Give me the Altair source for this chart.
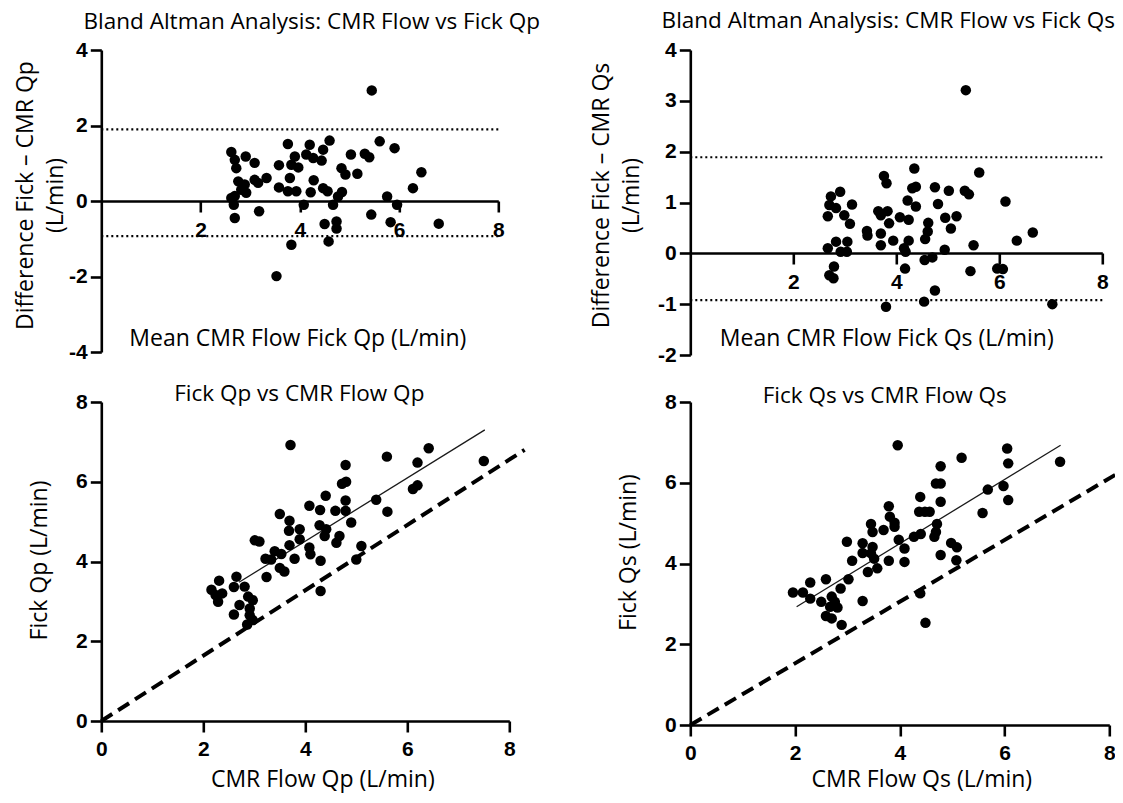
import altair as alt
import pandas as pd

# ---------------- data ----------------
# Bland-Altman Qp: mean of CMR flow and Fick (x) vs difference Fick - CMR (y)
qp_ba_mean = [5.45, 2.62, 2.69, 2.91, 2.72, 3.09, 2.76, 2.89, 2.82, 2.92, 2.69,
              3.09, 3.16, 3.33, 2.62, 2.67, 2.69, 3.18, 3.76, 3.58, 3.90, 3.83,
              3.97, 3.80, 3.58, 3.76, 3.93, 4.08, 3.83, 3.53, 4.20, 4.13, 4.27,
              4.47, 4.60, 4.44, 4.28, 4.22, 4.47, 4.56, 4.50, 4.58, 4.74, 4.74,
              4.67, 4.77, 4.85, 4.84, 4.92, 5.03, 5.16, 5.31, 5.40, 5.61, 5.91,
              5.44, 5.76, 5.96, 5.83, 6.28, 6.45, 6.80]
qp_ba_diff = [2.93, 1.30, 1.09, 1.18, 0.87, 1.01, 0.52, 0.44, 0.30, 0.22, 0.13,
              0.56, 0.48, 0.61, 0.08, -0.10, -0.45, -0.27, 1.51, 0.95, 1.18, 0.96,
              0.89, 0.61, 0.36, 0.26, 0.26, -0.10, -1.16, -1.99, 1.49, 1.23, 1.14,
              1.36, 1.60, 1.07, 0.55, 0.23, 0.34, 0.26, -0.61, -1.07, -0.54, -0.73,
              -0.10, 0.12, 0.24, 0.87, 0.70, 1.23, 0.72, 1.25, 1.16, 1.58, 1.40,
              -0.36, 0.12, -0.10, -0.56, 0.34, 0.76, -0.60]
qp_loa = [1.90, -0.93]

# Bland-Altman Qs
qs_ba_mean = [5.35, 4.35, 5.61, 3.76, 3.81, 2.91, 2.73, 2.70, 2.83, 3.14, 2.67,
              2.99, 3.10, 4.31, 4.38, 4.22, 4.38, 4.75, 5.02, 5.33, 5.41, 4.81,
              6.12, 3.65, 3.70, 3.83, 3.86, 4.07, 4.24, 4.62, 4.61, 4.56, 4.95,
              5.17, 5.06, 3.43, 3.44, 3.70, 3.70, 3.94, 4.24, 4.15, 4.18, 2.83,
              3.05, 2.67, 2.92, 3.04, 4.94, 5.50, 6.34, 6.65, 4.55, 4.70, 2.79,
              2.70, 2.78, 4.17, 5.44, 5.96, 6.07, 4.75, 4.54, 3.80, 7.03]
qs_ba_diff = [3.21, 1.67, 1.59, 1.52, 1.38, 1.21, 1.12, 0.95, 0.89, 0.96, 0.73,
              0.75, 0.58, 1.28, 1.31, 1.04, 0.92, 1.30, 1.23, 1.23, 1.16, 0.97,
              1.02, 0.83, 0.75, 0.83, 0.59, 0.71, 0.66, 0.60, 0.43, 0.28, 0.70,
              0.73, 0.49, 0.44, 0.35, 0.39, 0.16, 0.25, 0.25, 0.10, 0.03, 0.23,
              0.23, 0.10, 0.03, 0.03, 0.07, 0.16, 0.25, 0.41, -0.13, -0.08, -0.26,
              -0.43, -0.49, -0.30, -0.35, -0.30, -0.31, -0.73, -0.95, -1.05, -1.00]
qs_loa = [1.89, -0.92]

# Fick Qp vs CMR Flow Qp
qp_cmr = [3.71, 5.60, 6.42, 6.20, 7.50, 4.79, 4.72, 4.80, 6.11, 6.20, 4.40,
          4.79, 5.39, 5.61, 4.08, 4.29, 4.59, 4.79, 3.50, 3.69, 3.68, 3.89,
          4.28, 4.41, 4.90, 4.38, 3.89, 4.67, 4.61, 3.01, 3.10, 3.69, 4.08,
          4.10, 3.40, 3.53, 3.22, 3.33, 3.79, 4.30, 5.10, 5.00, 3.50, 3.59,
          3.24, 4.30, 2.65, 2.31, 2.60, 2.81, 2.16, 2.24, 2.37, 2.29, 2.88,
          2.97, 2.71, 2.91, 2.60, 2.91, 2.97, 2.86]
qp_fick = [6.92, 6.63, 6.84, 6.48, 6.52, 6.42, 5.95, 6.00, 5.82, 5.91, 5.65,
           5.53, 5.55, 5.25, 5.40, 5.29, 5.27, 5.27, 5.19, 5.02, 4.77, 4.81,
           4.91, 4.81, 4.98, 4.64, 4.56, 4.64, 4.47, 4.53, 4.50, 4.41, 4.35,
           4.18, 4.26, 4.19, 4.07, 4.05, 4.07, 4.02, 4.39, 4.05, 3.84, 3.75,
           3.61, 3.26, 3.62, 3.52, 3.36, 3.37, 3.29, 3.16, 3.20, 2.99, 3.12,
           3.03, 2.91, 2.82, 2.67, 2.65, 2.53, 2.42]
qp_fit_x = [2.70, 7.52]
qp_fit_y = [3.48, 7.30]
qp_ref_x = [0.0, 8.30]
qp_ref_y = [0.0, 6.80]

# Fick Qs vs CMR Flow Qs
qs_cmr = [3.96, 6.05, 5.18, 6.07, 7.06, 4.78, 4.69, 4.78, 5.68, 5.98, 4.39,
          4.78, 6.07, 5.58, 4.37, 4.48, 4.57, 3.79, 3.81, 3.90, 3.90, 3.45,
          3.69, 3.48, 4.71, 4.69, 4.66, 4.27, 4.40, 3.98, 4.09, 2.99, 3.29,
          3.48, 3.29, 3.45, 3.51, 3.09, 3.79, 4.09, 3.57, 3.39, 4.78, 4.98,
          5.09, 5.08, 3.02, 2.87, 2.59, 2.29, 1.96, 2.15, 2.29, 2.50, 2.70,
          2.76, 2.67, 2.81, 3.29, 2.59, 2.70, 2.89, 4.39, 4.49]
qs_fick = [6.93, 6.85, 6.62, 6.48, 6.52, 6.41, 5.98, 5.98, 5.83, 5.92, 5.65,
           5.53, 5.57, 5.25, 5.28, 5.28, 5.28, 5.42, 5.16, 5.01, 4.91, 4.98,
           4.83, 4.78, 4.98, 4.78, 4.66, 4.66, 4.73, 4.59, 4.37, 4.54, 4.50,
           4.41, 4.26, 4.25, 4.12, 4.07, 4.07, 4.04, 3.88, 3.79, 4.21, 4.51,
           4.40, 4.08, 3.61, 3.38, 3.61, 3.53, 3.28, 3.28, 3.13, 3.05, 3.18,
           3.05, 2.93, 2.91, 3.07, 2.70, 2.64, 2.48, 3.26, 2.53]
qs_fit_x = [2.03, 7.07]
qs_fit_y = [2.93, 6.93]
qs_ref_x = [0.0, 8.16]
qs_ref_y = [0.0, 6.23]

ba_x_ticks = [2, 4, 6, 8]
qp_ba_y_ticks = [-4, -2, 0, 2, 4]
qs_ba_y_ticks = [-2, -1, 0, 1, 2, 3, 4]
corr_ticks = [0, 2, 4, 6, 8]

# ---------------- styling ----------------
LABEL_FONT = "Liberation Sans"
TEXT_FONT = "Open Sans"
HYPHEN_LABEL = "replace(datum.label, '\u2212', '-')"

AX = dict(domainColor="black", domainWidth=2.6, tickColor="black", tickWidth=2.6,
          tickSize=11, labelFont=LABEL_FONT, labelFontSize=21, labelFontWeight=700,
          labelColor="black", grid=False, titleFont=TEXT_FONT, titleFontSize=23,
          titleFontWeight="normal", titleColor="black", labelFlush=False,
          labelOverlap=False, labelExpr=HYPHEN_LABEL)


def x_axis(values, title, tx, ty, offset=0, pad=7):
    return alt.Axis(values=values, title=title, titleX=tx, titleY=ty,
                    titleAlign="center", titleBaseline="alphabetic",
                    offset=offset, labelPadding=pad, **AX)


def y_axis(values, title, tx, ty):
    return alt.Axis(values=values, title=title, titleX=tx, titleY=ty, titleAngle=270,
                    titleAlign="center", titleBaseline="middle", titleLineHeight=30,
                    labelPadding=3, **AX)


def panel(px, py, xdom, ydom, w, h, xax, yax, title, tdx, toff,
          loa=None, fit=None, ref=None):
    xs = alt.Scale(domain=xdom, nice=False, zero=False)
    ys = alt.Scale(domain=ydom, nice=False, zero=False)
    layers = []
    if loa is not None:
        ldf = pd.DataFrame({"x": [xdom[0]] * len(loa), "x2": [xdom[1]] * len(loa), "y": loa})
        layers.append(alt.Chart(ldf).mark_rule(color="black", strokeWidth=2.2,
                                                strokeDash=[2, 3]).encode(
            x=alt.X("x:Q", scale=xs, axis=xax), x2="x2:Q",
            y=alt.Y("y:Q", scale=ys, axis=yax)))
    if ref is not None:
        rdf = pd.DataFrame({"x": ref[0], "y": ref[1]})
        layers.append(alt.Chart(rdf).mark_line(color="black", strokeWidth=4,
                                                strokeDash=[13, 7]).encode(
            x=alt.X("x:Q", scale=xs, axis=xax), y=alt.Y("y:Q", scale=ys, axis=yax)))
    if fit is not None:
        fdf = pd.DataFrame({"x": fit[0], "y": fit[1]})
        layers.append(alt.Chart(fdf).mark_line(color="#1a1a1a", strokeWidth=1.3).encode(
            x=alt.X("x:Q", scale=xs, axis=xax), y=alt.Y("y:Q", scale=ys, axis=yax)))
    pdf = pd.DataFrame({"x": px, "y": py})
    layers.append(alt.Chart(pdf).mark_circle(color="black", opacity=1, size=110).encode(
        x=alt.X("x:Q", scale=xs, axis=xax), y=alt.Y("y:Q", scale=ys, axis=yax)))
    return alt.layer(*layers).properties(
        width=w, height=h,
        title=alt.TitleParams(text=title, frame="group", anchor="middle", dx=tdx,
                              offset=toff, baseline="alphabetic", font=TEXT_FONT,
                              fontSize=22.5, fontWeight="normal", color="black"))


tl = panel(qp_ba_mean, qp_ba_diff, [0, 8], [-4, 4], 397, 302,
           x_axis(ba_x_ticks, "Mean CMR Flow Fick Qp (L/min)", 196, 144, offset=-151),
           y_axis(qp_ba_y_ticks, ["Difference Fick \u2013 CMR Qp", "(L/min)"], -76, 145),
           "Bland Altman Analysis: CMR Flow vs Fick Qp", 12, -12, loa=qp_loa)

tr = panel(qs_ba_mean, qs_ba_diff, [0, 8], [-2, 4], 412, 305,
           x_axis(ba_x_ticks, "Mean CMR Flow Fick Qs (L/min)", 196, 92, offset=-102),
           y_axis(qs_ba_y_ticks, ["Difference Fick \u2013 CMR Qs", "(L/min)"], -89, 145),
           "Bland Altman Analysis: CMR Flow vs Fick Qs", -8, -11, loa=qs_loa)

bl = panel(qp_cmr, qp_fick, [0, 8], [0, 8], 408, 319,
           x_axis(corr_ticks, "CMR Flow Qp (L/min)", 221, 65, pad=6),
           y_axis(corr_ticks, "Fick Qp (L/min)", -62, 158),
           "Fick Qp vs CMR Flow Qp", -6, -32,
           fit=(qp_fit_x, qp_fit_y), ref=(qp_ref_x, qp_ref_y))

br = panel(qs_cmr, qs_fick, [0, 8], [0, 8], 419, 323,
           x_axis(corr_ticks, "CMR Flow Qs (L/min)", 231, 61, pad=6),
           y_axis(corr_ticks, "Fick Qs (L/min)", -62, 150),
           "Fick Qs vs CMR Flow Qs", -15, -34,
           fit=(qs_fit_x, qs_fit_y), ref=(qs_ref_x, qs_ref_y))

# fixed page geometry: the svg is exactly 1107 x 787 so the page never overflows
chart = alt.concat(tl, tr, bl, br, columns=2, spacing={"row": 47, "column": 181},
                   bounds="flush").properties(
    autosize=alt.AutoSizeParams(type="none"),
    padding={"left": 93.3, "top": 42, "right": 1013.7, "bottom": 745},
    background="white"
).configure_view(stroke=None).configure_axis(labelFont=LABEL_FONT, labelFontWeight=700)

chart.save("out.html", embed_options={"renderer": "svg", "actions": False})
